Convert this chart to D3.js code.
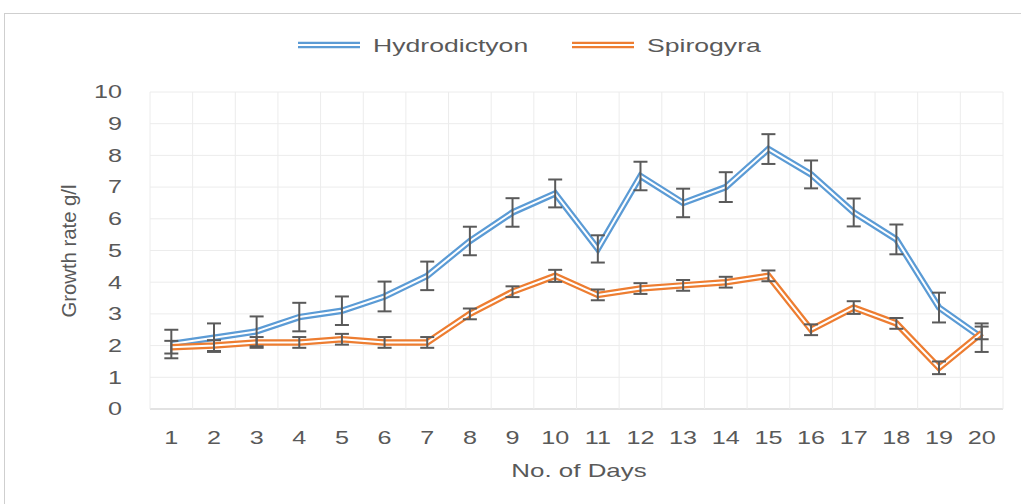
<!DOCTYPE html>
<html>
<head>
<meta charset="utf-8">
<script src="https://cdn.jsdelivr.net/npm/d3@7"></script>
<style>
  body { margin: 0; background: #fff; }
  text { font-family: "Liberation Sans", Arial, sans-serif; fill: #595959; }
</style>
</head>
<body>
<div id="viz"></div>
<script>
const days = [1, 2, 3, 4, 5, 6, 7, 8, 9, 10, 11, 12, 13, 14, 15, 16, 17, 18, 19, 20];
const hydro = [2.05, 2.25, 2.45, 2.9, 3.1, 3.55, 4.2, 5.3, 6.2, 6.8, 5.05, 7.35, 6.5, 7.0, 8.2, 7.4, 6.2, 5.35, 3.2, 2.25];
const hydroErr = [0.45, 0.45, 0.47, 0.45, 0.45, 0.47, 0.45, 0.45, 0.45, 0.44, 0.43, 0.45, 0.45, 0.47, 0.47, 0.44, 0.44, 0.47, 0.47, 0.45];
const spiro = [1.95, 2.0, 2.1, 2.1, 2.2, 2.1, 2.1, 3.0, 3.7, 4.2, 3.6, 3.8, 3.9, 4.0, 4.2, 2.5, 3.2, 2.7, 1.3, 2.4];
const spiroErr = [0.2, 0.17, 0.17, 0.17, 0.17, 0.17, 0.17, 0.17, 0.17, 0.19, 0.17, 0.17, 0.17, 0.17, 0.17, 0.17, 0.2, 0.17, 0.2, 0.2];
const yTicks = [0, 1, 2, 3, 4, 5, 6, 7, 8, 9, 10];
const seriesNames = ["Hydrodictyon", "Spirogyra"];

const width = 1021, height = 504;
const plotLeft = 150, plotRight = 1003, plotTop = 92, plotBottom = 409;
const sx = 1.4; // picture is stretched sideways

const svg = d3.select("#viz").append("svg")
    .attr("width", width)
    .attr("height", height);

// outer frame (cut off on right and bottom)
svg.append("rect")
    .attr("x", 4.5).attr("y", 13.5)
    .attr("width", 1040).attr("height", 520)
    .attr("fill", "none")
    .attr("stroke", "#cfcfcf");

const x = d3.scaleBand().domain(days).range([plotLeft, plotRight]);
const y = d3.scaleLinear().domain([0, 10]).range([plotBottom, plotTop]);
const cx = d => x(d) + x.bandwidth() / 2;

// grid
svg.append("g").selectAll("line")
    .data(yTicks)
    .enter().append("line")
    .attr("x1", plotLeft).attr("x2", plotRight)
    .attr("y1", d => y(d)).attr("y2", d => y(d))
    .attr("stroke", d => d === 0 ? "#d9d9d9" : "#ececec")
    .attr("stroke-width", d => d === 0 ? 1.5 : 1);

svg.append("g").selectAll("line")
    .data(days.concat(["end"]))
    .enter().append("line")
    .attr("x1", d => d === "end" ? plotRight : x(d))
    .attr("x2", d => d === "end" ? plotRight : x(d))
    .attr("y1", plotTop).attr("y2", plotBottom)
    .attr("stroke", "#ececec");

// y tick labels
svg.append("g").selectAll("text")
    .data(yTicks)
    .enter().append("text")
    .attr("transform", d => "translate(122," + y(d) + ") scale(" + sx + ",1)")
    .attr("dy", "0.35em")
    .attr("text-anchor", "end")
    .attr("font-size", 18)
    .text(d => d);

// x tick labels
svg.append("g").selectAll("text")
    .data(days)
    .enter().append("text")
    .attr("transform", d => "translate(" + cx(d) + ",438) scale(" + sx + ",1)")
    .attr("dy", "0.35em")
    .attr("text-anchor", "middle")
    .attr("font-size", 18)
    .text(d => d);

// axis titles
svg.append("text")
    .attr("transform", "translate(579,471) scale(" + sx + ",1)")
    .attr("dy", "0.35em")
    .attr("text-anchor", "middle")
    .attr("font-size", 18.5)
    .text("No. of Days");

svg.append("text")
    .attr("transform", "translate(69,251) scale(1.25,1) rotate(-90)")
    .attr("dy", "0.35em")
    .attr("text-anchor", "middle")
    .attr("font-size", 16)
    .attr("textLength", 133)
    .attr("lengthAdjust", "spacingAndGlyphs")
    .text("Growth rate g/l");

// series
const series = [
    { name: seriesNames[0], vals: hydro, err: hydroErr, color: "#5b9bd5" },
    { name: seriesNames[1], vals: spiro, err: spiroErr, color: "#ed7d31" }
];

const line = d3.line()
    .x((d, i) => cx(days[i]))
    .y(d => y(d));

const capW = 7;
series.forEach(s => {
    // double line: thick colour with thin white core
    svg.append("path")
        .attr("d", line(s.vals))
        .attr("fill", "none")
        .attr("stroke", s.color)
        .attr("stroke-width", 6.5)
        .attr("stroke-linejoin", "miter");
    svg.append("path")
        .attr("d", line(s.vals))
        .attr("fill", "none")
        .attr("stroke", "#fff")
        .attr("stroke-width", 2)
        .attr("stroke-linejoin", "miter");
});

series.forEach(s => {
    const g = svg.append("g")
        .attr("stroke", "#5a5a5a")
        .attr("stroke-width", 2);
    g.selectAll(".v")
        .data(s.vals)
        .enter().append("line")
        .attr("x1", (d, i) => cx(days[i])).attr("x2", (d, i) => cx(days[i]))
        .attr("y1", (d, i) => y(d + s.err[i])).attr("y2", (d, i) => y(d - s.err[i]));
    [1, -1].forEach(sign => {
        g.selectAll(".c" + sign)
            .data(s.vals)
            .enter().append("line")
            .attr("x1", (d, i) => cx(days[i]) - capW).attr("x2", (d, i) => cx(days[i]) + capW)
            .attr("y1", (d, i) => y(d + sign * s.err[i]))
            .attr("y2", (d, i) => y(d + sign * s.err[i]));
    });
});

// legend
const legendX = [298, 572];
const legend = svg.append("g").selectAll("g")
    .data(series)
    .enter().append("g")
    .attr("transform", (d, i) => "translate(" + legendX[i] + ",45)");
legend.append("line")
    .attr("x1", 0).attr("x2", 62)
    .attr("stroke", d => d.color)
    .attr("stroke-width", 6.5);
legend.append("line")
    .attr("x1", 0).attr("x2", 62)
    .attr("stroke", "#fff")
    .attr("stroke-width", 2);
legend.append("text")
    .attr("transform", "translate(75,0) scale(" + sx + ",1)")
    .attr("dy", "0.35em")
    .attr("font-size", 19)
    .text(d => d.name);
</script>
</body>
</html>
